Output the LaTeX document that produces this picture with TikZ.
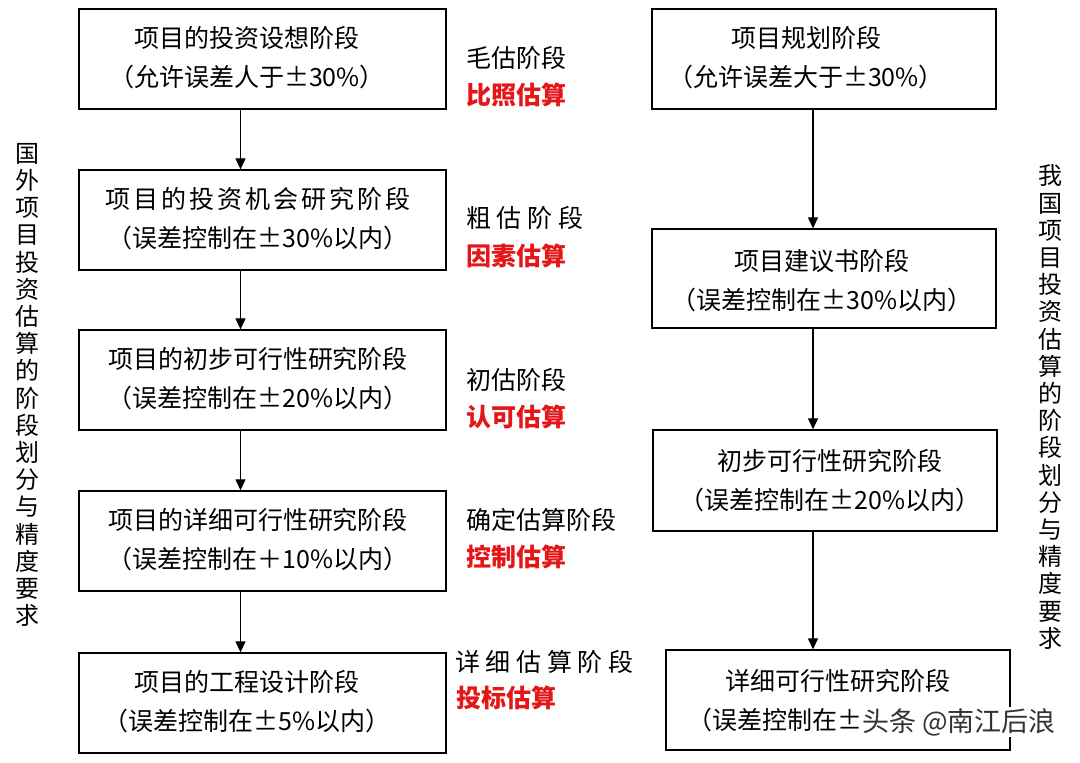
\documentclass[tikz,border=0pt]{standalone}
\usepackage{fontspec}
\setmainfont{Noto Sans CJK SC}
\usetikzlibrary{arrows.meta}
\definecolor{lblred}{RGB}{228,22,24}
\begin{document}
\begin{tikzpicture}[x=1pt,y=-1pt,
  box/.style={draw, line width=1.3pt, inner sep=0pt, minimum height=100pt},
  lbox/.style={box, minimum width=367pt},
  rbox/.style={box, minimum width=344pt},
  btxt/.style={align=center, inner sep=0pt, font=\fontsize{25}{39}\selectfont},
  stage/.style={anchor=west, inner sep=0pt, font=\fontsize{25}{30}\selectfont},
  method/.style={anchor=west, inner sep=0pt, text=lblred, font=\fontsize{25}{30}\selectfont\bfseries},
  vlab/.style={align=center, inner sep=0pt, font=\fontsize{24}{27.2}\selectfont},
  arr/.style={line width=1.2pt, -{Triangle[length=11pt,width=10pt]}}]
\useasboundingbox (0,0) rectangle (1080,763);
\fill[white] (0,0) rectangle (1080,763);

% left column boxes
\node[lbox] (L1) at (262.5,59) {};
\node[lbox] (L2) at (262.5,220) {};
\node[lbox] (L3) at (262.5,380) {};
\node[lbox] (L4) at (262.5,541) {};
\node[lbox] (L5) at (262.5,703) {};
\node[btxt] (L1t) at (247,58) {项目的投资设想阶段\\（允许误差人于±30\%）};
\node[btxt] (L2t) at (258,219) {{\addfontfeatures{LetterSpace=12}项目的投资机会研究阶段}\\（误差控制在±30\%以内）};
\node[btxt] (L3t) at (258,379) {项目的初步可行性研究阶段\\（误差控制在±20\%以内）};
\node[btxt] (L4t) at (258,540) {项目的详细可行性研究阶段\\（误差控制在＋10\%以内）};
\node[btxt] (L5t) at (247,702) {项目的工程设计阶段\\（误差控制在±5\%以内）};

\draw[arr] ([xshift=-22pt]L1.south) -- ([xshift=-22pt]L2.north);
\draw[arr] ([xshift=-22pt]L2.south) -- ([xshift=-22pt]L3.north);
\draw[arr] ([xshift=-22pt]L3.south) -- ([xshift=-22pt]L4.north);
\draw[arr] ([xshift=-22pt]L4.south) -- ([xshift=-22pt]L5.north);

% middle labels
\node[stage] (s1) at (466,58) {毛估阶段};
\node[method] (m1) at (466,95) {比照估算};
\node[stage] (s2) at (466,218) {粗 估 阶 段};
\node[method] (m2) at (466,256) {因素估算};
\node[stage] (s3) at (466,380) {初估阶段};
\node[method] (m3) at (466,417) {认可估算};
\node[stage] (s4) at (466,520) {确定估算阶段};
\node[method] (m4) at (466,557) {控制估算};
\node[stage] (s5) at (455,662) {详 细 估 算 阶 段};
\node[method] (m5) at (456,698) {投标估算};

% right column boxes
\node[rbox] (R1) at (824,59) {};
\node[rbox, minimum height=99pt] (R2) at (824,278.5) {};
\node[rbox, minimum height=101pt] (R3) at (825,480.5) {};
\node[rbox] (R4) at (838,700) {};
\node[btxt] (R1t) at (806,58) {项目规划阶段\\（允许误差大于±30\%）};
\node[btxt] (R2t) at (822,281) {项目建议书阶段\\（误差控制在±30\%以内）};
\node[btxt] (R3t) at (830,481) {初步可行性研究阶段\\（误差控制在±20\%以内）};
\node[btxt] (R4t) at (838,701) {详细可行性研究阶段\\（误差控制在±10\%以内）};

\draw[arr] ([xshift=-11pt]R1.south) -- ([xshift=-11pt]R1.south |- R2.north);
\draw[arr] ([xshift=-11pt]R2.south) -- ([xshift=-11pt]R2.south |- R3.north);
\draw[arr] ([xshift=-12pt]R3.south) -- ([xshift=-12pt]R3.south |- R4.north);

% vertical side titles
\node[vlab] (vl) at (28,385) {国\\外\\项\\目\\投\\资\\估\\算\\的\\阶\\段\\划\\分\\与\\精\\度\\要\\求};
\node[vlab] (vr) at (1050,407) {我\\国\\项\\目\\投\\资\\估\\算\\的\\阶\\段\\划\\分\\与\\精\\度\\要\\求};

% watermark
\node[anchor=west, inner sep=1pt, fill=white, text=black!80, font=\fontsize{27}{30}\selectfont] (wm) at (861,722)
  {头条 @南江后浪};
\end{tikzpicture}
\end{document}
